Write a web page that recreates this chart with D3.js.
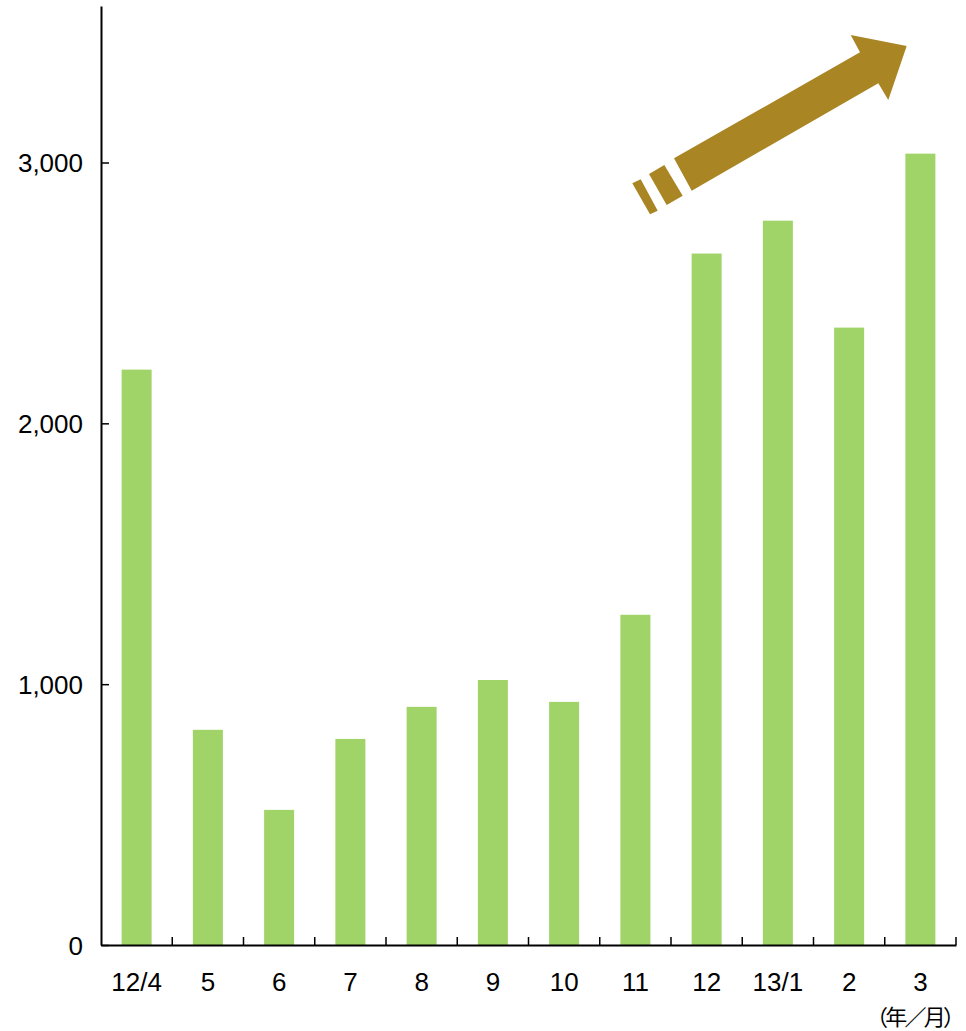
<!DOCTYPE html>
<html><head><meta charset="utf-8">
<script src="https://cdn.jsdelivr.net/npm/d3@7"></script>
<style>
html,body{margin:0;padding:0;background:#fff;}
text{font-family:"Liberation Sans",Arial,sans-serif;fill:#000;}
</style></head>
<body><svg id="c" width="966" height="1031"></svg>
<script>
const categories = ["12/4","5","6","7","8","9","10","11","12","13/1","2","3"];
const values = [2206, 825, 518, 790, 913, 1016, 932, 1266, 2651, 2777, 2367, 3034];
const yTicks = [0, 1000, 2000, 3000];
const unitLabel = "（年／月）";

const svg = d3.select("#c");
const mLeft = 101, mRight = 956, mTop = 6, mBottom = 945;

const pi = 1 - 30/71.25;
const x = d3.scaleBand().domain(categories).range([mLeft, mRight]).paddingInner(pi).paddingOuter(pi/2);
const y = d3.scaleLinear().domain([0, 3600]).range([mBottom, mTop]);

// bars
svg.append("g").selectAll("rect").data(values).join("rect")
  .attr("x", (d,i) => x(categories[i]))
  .attr("width", x.bandwidth())
  .attr("y", d => y(d))
  .attr("height", d => y(0) - y(d))
  .attr("fill", "#A0D468");

// y axis
const ya = svg.append("g").attr("transform", `translate(${mLeft},0)`)
  .call(d3.axisLeft(y).tickValues(yTicks).tickFormat(d3.format(",")).tickSizeInner(-8).tickSizeOuter(0).tickPadding(18));
ya.select(".domain").attr("stroke", "#000").attr("stroke-width", 2);
ya.selectAll(".tick line").attr("stroke", "#000").attr("stroke-width", 1.5);
ya.selectAll(".tick text").attr("font-size", 26).attr("font-family", "Liberation Sans, Arial, sans-serif").attr("dy", "0.36em");

// x axis
const xa = svg.append("g").attr("transform", `translate(0,${mBottom})`)
  .call(d3.axisBottom(x).tickSize(0).tickSizeOuter(0));
xa.select(".domain").attr("stroke", "#000").attr("stroke-width", 2);
xa.selectAll(".tick text").attr("font-size", 26).attr("font-family", "Liberation Sans, Arial, sans-serif").attr("y", 46).attr("dy", 0);
// boundary ticks
const bounds = d3.range(1, categories.length + 1).map(i => x.range()[0] + i * x.step());
xa.append("g").selectAll("line").data(bounds).join("line")
  .attr("x1", d => d).attr("x2", d => d).attr("y1", 0).attr("y2", -8)
  .attr("stroke", "#000").attr("stroke-width", 1.5);

svg.append("text").attr("x", 866).attr("y", 1025)
  .attr("font-size", 22).attr("textLength", 99).attr("lengthAdjust", "spacing")
  .style("font-family", "'Noto Sans CJK JP', sans-serif").text(unitLabel);

// decorative arrow
const arrowColor = "#A98523";
const ann = svg.append("g").attr("fill", arrowColor);
ann.append("path").attr("d", "M674,158.3 L860,52.3 L850.7,35 L906.7,46 L888.3,100 L878.3,83.3 L691.7,190.7 Z");
ann.append("path").attr("d", "M649,174 L664.3,165 L682.7,195.7 L666.7,205 Z");
ann.append("path").attr("d", "M632.3,183.3 L640.7,179.3 L657.7,210.7 L650,214.3 Z");
</script></body></html>
